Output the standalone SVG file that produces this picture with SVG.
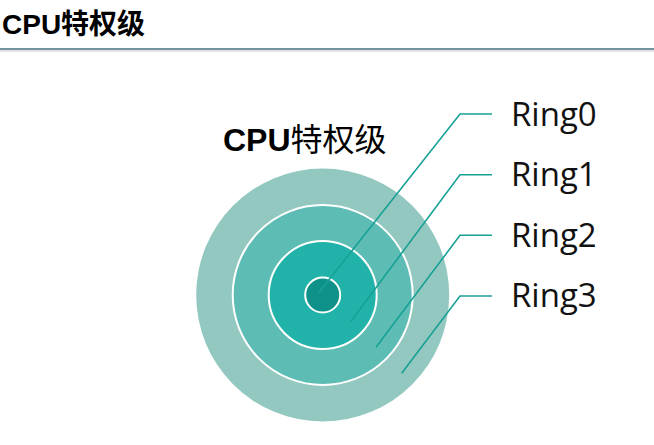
<svg xmlns="http://www.w3.org/2000/svg" width="654" height="445" viewBox="0 0 654 445">
  <style>
    .title { font-family: "Liberation Sans", "Noto Sans CJK SC", sans-serif; font-weight: bold; font-size: 28px; fill: #000; }
    .label { font-family: "Liberation Sans", "Noto Sans CJK SC", sans-serif; font-size: 32px; fill: #000; }
    .ring { font-family: "Open Sans", "Noto Sans", sans-serif; font-size: 33px; fill: #111; }
    .leader { fill: none; stroke: #17a196; stroke-width: 1.6; }
    .sep { stroke: #ffffff; stroke-width: 2; }
  </style>
  <rect x="0" y="0" width="654" height="445" fill="#ffffff"/>
  <g id="header">
    <text class="title" x="2" y="34">CPU特权级</text>
    <line x1="0" y1="51" x2="654" y2="51" stroke="#e4e4e4" stroke-width="2"/>
    <line x1="0" y1="49" x2="654" y2="49" stroke="#41717c" stroke-width="1.6"/>
  </g>
  <g id="caption">
    <text class="label" x="223" y="151"><tspan font-weight="bold">CPU</tspan>特权级</text>
  </g>
  <g id="rings">
    <circle id="ring3-disc" cx="322.7" cy="295" r="126.5" fill="#93c8c0"/>
    <circle id="ring2-disc" class="sep" cx="322.7" cy="295" r="90" fill="#5dbdb5"/>
    <circle id="ring1-disc" class="sep" cx="322.7" cy="295" r="54" fill="#21b3a9"/>
    <circle id="ring0-disc" class="sep" cx="322.7" cy="295" r="17.5" fill="#0e9189"/>
  </g>
  <g id="connectors">
    <polyline class="leader" points="318.3,293.3 460,114 492,114"/>
    <polyline class="leader" points="350.7,321.7 460,174.7 492,174.7"/>
    <polyline class="leader" points="376,347.3 460,235.3 492,235.3"/>
    <polyline class="leader" points="401.7,373.3 460,296 492,296"/>
  </g>
  <g id="ring0"><text class="ring" x="511" y="125.5">Ring0</text></g>
  <g id="ring1"><text class="ring" x="511" y="186">Ring1</text></g>
  <g id="ring2"><text class="ring" x="511" y="246.5">Ring2</text></g>
  <g id="ring3"><text class="ring" x="511" y="307">Ring3</text></g>
</svg>
